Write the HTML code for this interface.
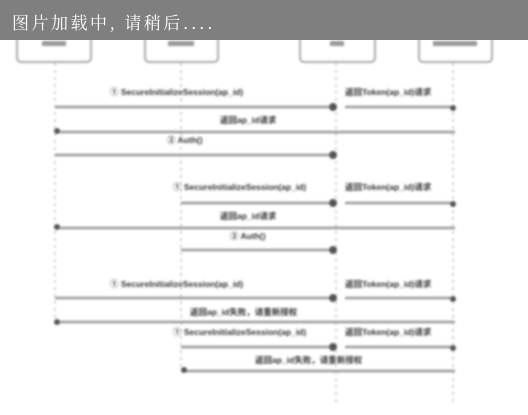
<!DOCTYPE html>
<html><head><meta charset="utf-8"><style>
html,body{margin:0;padding:0;background:#fff;width:528px;height:415px;overflow:hidden}
svg{display:block}
.bar{position:absolute;left:0;top:0;width:528px;height:40px;background:#7f7f7f;}
.bar span{position:absolute;left:12px;top:9px;color:#fff;font:17px "Noto Serif CJK SC","Liberation Serif",serif;letter-spacing:2.5px}
</style></head><body>
<svg width="528" height="415" xmlns="http://www.w3.org/2000/svg">
<defs><filter id="b"><feGaussianBlur stdDeviation="1.1"/></filter></defs>
<g filter="url(#b)" font-family="Liberation Sans, Noto Sans CJK SC, sans-serif" font-size="8.5" font-weight="bold" fill="#333">
<g fill="none" stroke="#aaa" stroke-width="2">
<rect x="17" y="25" width="74" height="37" rx="4"/>
<rect x="145" y="25" width="73" height="37" rx="4"/>
<rect x="300" y="25" width="75" height="37" rx="4"/>
<rect x="419" y="25" width="73" height="37" rx="4"/>
</g>
<g fill="#999"><rect x="42" y="41" width="24" height="5"/><rect x="168" y="41" width="26" height="5"/><rect x="330" y="41" width="14" height="5"/><rect x="433" y="41" width="44" height="5"/></g>
<g stroke="#bbb" stroke-dasharray="3,4" stroke-width="1.2">
<line x1="55" y1="63" x2="55" y2="325"/>
<line x1="181" y1="63" x2="181" y2="372"/>
<line x1="336" y1="63" x2="336" y2="402"/>
<line x1="453" y1="63" x2="453" y2="402"/>
</g>
<g stroke="#999" stroke-width="2.4">
<line x1="55" y1="107" x2="330" y2="107"/><line x1="345" y1="107" x2="453" y2="107"/>
<line x1="57" y1="132" x2="455" y2="132"/>
<line x1="55" y1="155" x2="330" y2="155"/>
<line x1="181" y1="203" x2="330" y2="203"/><line x1="345" y1="203" x2="453" y2="203"/>
<line x1="57" y1="228" x2="455" y2="228"/>
<line x1="181" y1="250" x2="330" y2="250"/>
<line x1="55" y1="298" x2="330" y2="298"/><line x1="345" y1="298" x2="453" y2="298"/>
<line x1="57" y1="322" x2="455" y2="322"/>
<line x1="181" y1="347" x2="330" y2="347"/><line x1="345" y1="347" x2="453" y2="347"/>
<line x1="183" y1="371" x2="455" y2="371"/>
</g>
<g fill="#555">
<circle cx="333" cy="107" r="4"/><circle cx="453" cy="108" r="3"/>
<circle cx="57" cy="131" r="3"/>
<circle cx="333" cy="155" r="4"/>
<circle cx="333" cy="203" r="4"/><circle cx="453" cy="204" r="3"/>
<circle cx="57" cy="227" r="3"/>
<circle cx="333" cy="250" r="4"/>
<circle cx="333" cy="298" r="4"/><circle cx="453" cy="299" r="3"/>
<circle cx="57" cy="322" r="3"/>
<circle cx="333" cy="347" r="4"/><circle cx="453" cy="348" r="3"/>
<circle cx="184" cy="370" r="3"/>
</g>
<text x="110" y="95">① SecureInitializeSession(ap_id)</text>
<text x="345" y="95">返回Token(ap_id)请求</text>
<text x="220" y="123">返回ap_id请求</text>
<text x="167" y="143">② Auth()</text>
<text x="173" y="190">① SecureInitializeSession(ap_id)</text>
<text x="345" y="190">返回Token(ap_id)请求</text>
<text x="220" y="219">返回ap_id请求</text>
<text x="230" y="239">② Auth()</text>
<text x="110" y="287">① SecureInitializeSession(ap_id)</text>
<text x="345" y="287">返回Token(ap_id)请求</text>
<text x="190" y="315">返回ap_id失败，请重新授权</text>
<text x="173" y="335">① SecureInitializeSession(ap_id)</text>
<text x="345" y="335">返回Token(ap_id)请求</text>
<text x="255" y="363">返回ap_id失败，请重新授权</text>
</g>
</svg>
<div class="bar"><span>图片加载中, 请稍后....</span></div>
</body></html>
